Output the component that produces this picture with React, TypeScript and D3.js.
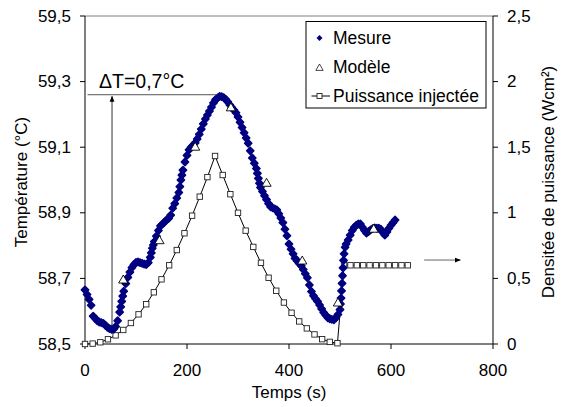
import * as d3 from "d3";

const W = 563;
const H = 407;
const MARGIN = { left: 85, right: 70, top: 16, bottom: 63 };

// tick labels
const timeTicks = [0, 200, 400, 600, 800];
const tempTicks = [58.5, 58.7, 58.9, 59.1, 59.3, 59.5];
const powerTicks = [0, 0.5, 1, 1.5, 2, 2.5];

const measureTime = [
  0, 4, 8, 12, 16, 20, 24, 28, 32, 36, 40, 44, 48, 52, 56, 60, 64, 68, 70, 72, 74, 76, 80, 84, 88, 92, 96,
  100, 104, 108, 112, 116, 120, 124, 128, 130, 132, 134, 136, 140, 144, 148, 152, 156, 160, 164, 168, 172,
  176, 180, 184, 186, 188, 190, 192, 196, 200, 204, 208, 212, 216, 220, 224, 228, 232, 236, 240, 244, 248,
  252, 256, 260, 264, 268, 272, 276, 280, 284, 288, 292, 296, 300, 304, 308, 312, 316, 320, 324, 328, 332,
  336, 338, 340, 342, 344, 348, 352, 356, 360, 364, 368, 372, 376, 380, 384, 388, 392, 396, 400, 404, 408,
  412, 416, 420, 424, 428, 432, 436, 440, 444, 448, 452, 456, 460, 464, 468, 472, 476, 480, 484, 488, 492,
  496, 500, 501, 502, 503, 504, 505, 506, 507, 508, 510, 512, 516, 520, 524, 528, 532, 536, 540, 544, 548,
  552, 556, 560, 564, 568, 572, 576, 580, 584, 588, 592, 596, 600, 604, 608,
];
const measureTemp = [
  58.665, 58.651, 58.636, 58.618, 58.585, 58.578, 58.571, 58.567, 58.565, 58.563, 58.557, 58.551, 58.547,
  58.545, 58.545, 58.553, 58.571, 58.597, 58.613, 58.63, 58.646, 58.661, 58.684, 58.703, 58.719, 58.733,
  58.742, 58.749, 58.75, 58.748, 58.746, 58.744, 58.742, 58.748, 58.764, 58.778, 58.792, 58.802, 58.812,
  58.829, 58.846, 58.86, 58.866, 58.872, 58.878, 58.883, 58.893, 58.914, 58.928, 58.945, 58.962, 58.98,
  59.0, 59.015, 59.03, 59.055, 59.075, 59.092, 59.1, 59.106, 59.113, 59.125, 59.139, 59.155, 59.171,
  59.186, 59.198, 59.21, 59.222, 59.235, 59.245, 59.25, 59.255, 59.254, 59.251, 59.246, 59.238, 59.229,
  59.221, 59.213, 59.205, 59.192, 59.176, 59.16, 59.144, 59.128, 59.112, 59.089, 59.067, 59.051, 59.035,
  59.02, 59.005, 58.99, 58.977, 58.965, 58.952, 58.94, 58.928, 58.918, 58.915, 58.912, 58.909, 58.897,
  58.884, 58.87, 58.85, 58.83, 58.805, 58.789, 58.775, 58.761, 58.753, 58.746, 58.738, 58.727, 58.714,
  58.702, 58.68, 58.66, 58.647, 58.638, 58.63, 58.619, 58.607, 58.596, 58.588, 58.58, 58.577, 58.575,
  58.574, 58.58, 58.59, 58.605, 58.622, 58.64, 58.662, 58.685, 58.708, 58.732, 58.755, 58.775, 58.795,
  58.805, 58.817, 58.832, 58.846, 58.856, 58.862, 58.866, 58.866, 58.856, 58.846, 58.838, 58.843, 58.848,
  58.852, 58.854, 58.853, 58.853, 58.85, 58.84, 58.832, 58.842, 58.853, 58.862, 58.87, 58.878,
];

// Modèle
const modelTime = [75, 146, 216, 286, 356, 426, 496, 566];
const modelTemp = [58.695, 58.815, 59.1, 59.22, 58.99, 58.753, 58.625, 58.85];

// Puissance injectée
const powerTime = [
  0, 15, 30, 45, 60, 75, 90, 105, 120, 135, 150, 165, 180, 195, 210, 225, 240, 255, 270, 285, 300, 315,
  330, 345, 360, 375, 390, 405, 420, 435, 450, 465, 480, 495, 508, 520.5, 533, 545.5, 558, 570.5, 583,
  595.5, 608, 620.5, 633,
];
const powerValue = [
  0, 0.003, 0.013, 0.036, 0.066, 0.107, 0.16, 0.226, 0.303, 0.394, 0.493, 0.6, 0.716, 0.844, 0.978, 1.123,
  1.272, 1.433, 1.288, 1.142, 1.0, 0.864, 0.74, 0.619, 0.505, 0.406, 0.316, 0.238, 0.172, 0.119, 0.073,
  0.037, 0.016, 0.006, 0.6, 0.6, 0.6, 0.6, 0.6, 0.6, 0.6, 0.6, 0.6, 0.6, 0.6,
];

const FONT = "'Liberation Sans', Arial, sans-serif";
const fmt = (v: number) => String(v).replace(".", ",");

function diamond(r: number) {
  return `M0,${-r}L${r},0L0,${r}L${-r},0Z`;
}
const triangle = "M0,-5L4.6,3L-4.6,3Z";

export default function App() {
  const x = d3.scaleLinear().domain([0, 800]).range([MARGIN.left, W - MARGIN.right]);
  const yT = d3.scaleLinear().domain([58.5, 59.5]).range([H - MARGIN.bottom, MARGIN.top]);
  const yP = d3.scaleLinear().domain([0, 2.5]).range([H - MARGIN.bottom, MARGIN.top]);

  const x0 = x(0);
  const x1 = x(800);
  const yb = yT(58.5);
  const yt = yT(59.5);

  const powerLine = d3
    .line<number>()
    .x((_, i) => x(powerTime[i]))
    .y((d) => yP(d))(powerValue);

  const dM = diamond(3.6);

  return (
    <svg
      width={W}
      height={H}
      style={{ position: "absolute", left: 0, top: 0, background: "#fff" }}
      fontFamily={FONT}
    >
      <defs>
        <marker id="arr" viewBox="0 0 10 10" refX="9" refY="5" markerWidth="6" markerHeight="6" orient="auto">
          <path d="M0,1L10,5L0,9Z" fill="#000" />
        </marker>
      </defs>

      {/* frame */}
      <line x1={x0} x2={x1} y1={yt} y2={yt} stroke="#808080" />
      <line x1={x0} x2={x0} y1={yt} y2={yb} stroke="#000" />
      <line x1={x1} x2={x1} y1={yt} y2={yb} stroke="#000" />
      <line x1={x0} x2={x1} y1={yb} y2={yb} stroke="#000" />

      {/* left axis */}
      {tempTicks.map((t) => (
        <g key={"l" + t}>
          <line x1={x0 - 5} x2={x0} y1={yT(t)} y2={yT(t)} stroke="#000" />
          <text x={x0 - 14} y={yT(t)} textAnchor="end" dominantBaseline="central" fontSize={17}>
            {fmt(t)}
          </text>
        </g>
      ))}
      {/* right axis */}
      {powerTicks.map((p) => (
        <g key={"r" + p}>
          <line x1={x1} x2={x1 + 5} y1={yP(p)} y2={yP(p)} stroke="#000" />
          <text x={x1 + 14} y={yP(p)} dominantBaseline="central" fontSize={17}>
            {fmt(p)}
          </text>
        </g>
      ))}
      {/* bottom axis */}
      {timeTicks.map((t) => (
        <g key={"b" + t}>
          <line x1={x(t)} x2={x(t)} y1={yb} y2={yb + 5} stroke="#000" />
          <text x={x(t)} y={yb + 32} textAnchor="middle" fontSize={17}>
            {t}
          </text>
        </g>
      ))}

      {/* axis titles */}
      <text x={(x0 + x1) / 2} y={398} textAnchor="middle" fontSize={17}>
        Temps (s)
      </text>
      <text
        transform={`translate(21,${(yt + yb) / 2 + 2}) rotate(-90)`}
        textAnchor="middle"
        dominantBaseline="central"
        fontSize={17}
      >
        Température (°C)
      </text>
      <text
        transform={`translate(548,${(yt + yb) / 2 + 2}) rotate(-90)`}
        textAnchor="middle"
        dominantBaseline="central"
        fontSize={17}
      >
        Densitée de puissance (Wcm²)
      </text>

      {/* power series */}
      <path d={powerLine ?? ""} fill="none" stroke="#000" strokeWidth={1} />
      {powerValue.map((p, i) => (
        <rect
          key={"p" + i}
          x={x(powerTime[i]) - 2.7}
          y={yP(p) - 2.7}
          width={5.4}
          height={5.4}
          fill="#fff"
          stroke="#222"
          strokeWidth={0.9}
        />
      ))}

      {/* measure */}
      {measureTemp.map((v, i) => (
        <path
          key={"m" + i}
          d={dM}
          transform={`translate(${x(measureTime[i])},${yT(v)})`}
          fill="#000080"
          stroke="#000080"
          strokeWidth={1.6}
          strokeLinejoin="round"
        />
      ))}

      {/* model */}
      {modelTemp.map((v, i) => (
        <path
          key={"t" + i}
          d={triangle}
          transform={`translate(${x(modelTime[i])},${yT(v)})`}
          fill="#fff"
          stroke="#000"
          strokeWidth={0.9}
        />
      ))}

      {/* ΔT annotation */}
      <line x1={x(5)} x2={x(258)} y1={yT(59.26)} y2={yT(59.26)} stroke="#555" />
      <line
        x1={x(53)}
        x2={x(53)}
        y1={yT(58.556)}
        y2={yT(59.255)}
        stroke="#333"
        markerEnd="url(#arr)"
      />
      <text x={99} y={88} fontSize={19.5}>
        ΔT=0,7°C
      </text>

      {/* arrow to right axis */}
      <line x1={x(665)} x2={x(736)} y1={yP(0.64)} y2={yP(0.64)} stroke="#666" markerEnd="url(#arr)" />

      {/* legend */}
      <rect x={306} y={21.5} width={180} height={86.5} fill="#fff" stroke="#000" />
      <path d={diamond(3)} transform="translate(319.5,38)" fill="#000080" />
      <text x={333} y={38} dominantBaseline="central" fontSize={17.5}>
        Mesure
      </text>
      <path d={triangle} transform="translate(319.5,68) scale(0.8)" fill="#fff" stroke="#000" strokeWidth={0.9} />
      <text x={333} y={67} dominantBaseline="central" fontSize={17.5}>
        Modèle
      </text>
      <line x1={311.5} x2={330} y1={96} y2={96} stroke="#000" />
      <rect x={317} y={93.5} width={5} height={5} fill="#fff" stroke="#222" strokeWidth={0.9} />
      <text x={333} y={96} dominantBaseline="central" fontSize={17.5}>
        Puissance injectée
      </text>
    </svg>
  );
}
